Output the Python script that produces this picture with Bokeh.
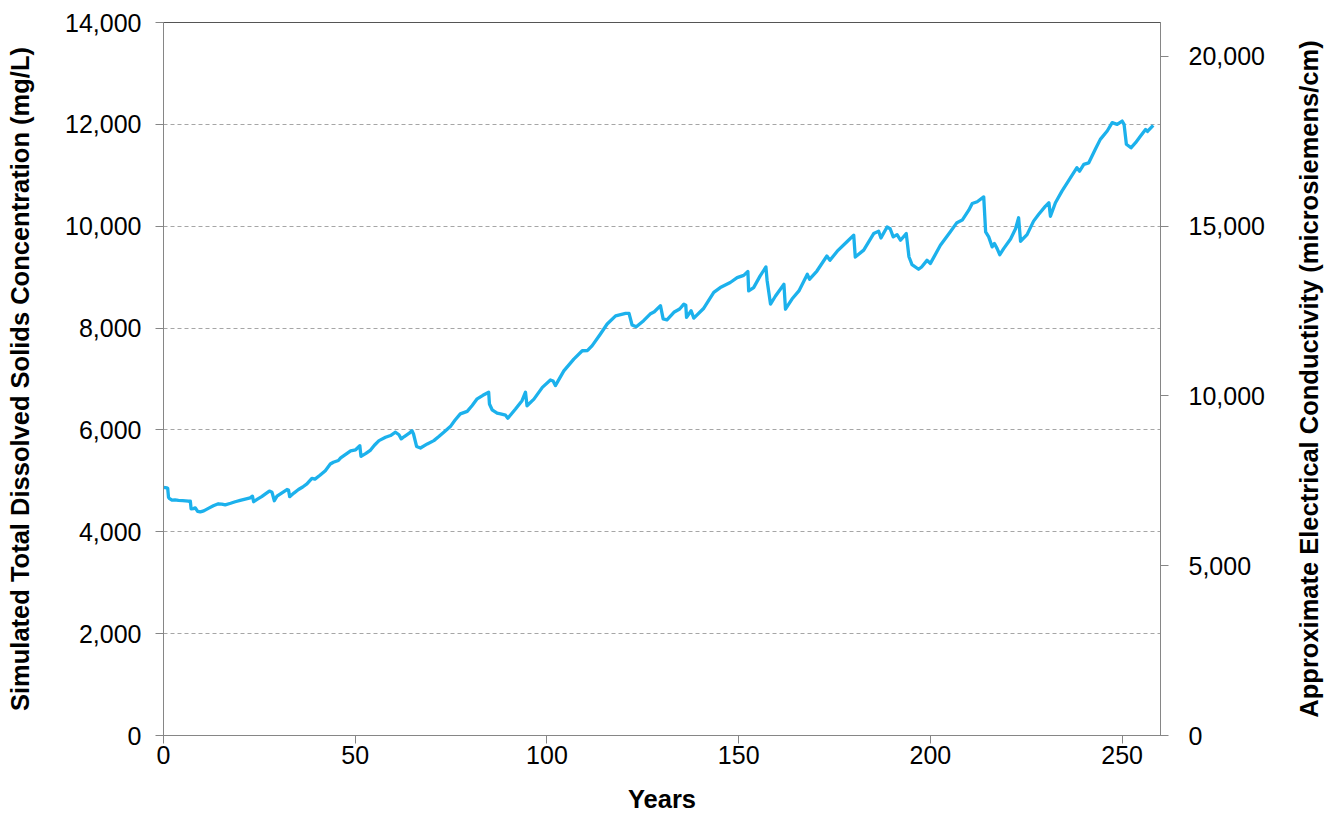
import math
from bokeh.plotting import figure
from bokeh.layouts import row
from bokeh.core.properties import value
from bokeh.models import Range1d, LinearAxis, FixedTicker, NumeralTickFormatter, ColumnDataSource
from bokeh.embed import file_html
from bokeh.resources import INLINE

# Simulated TDS concentration over time (years, mg/L)
years = [
    0.0, 0.9, 1.1, 1.3, 1.6, 2.2, 3.0, 3.9, 5.0, 6.5, 7.0, 7.2, 7.8, 8.3, 8.9, 9.6,
    10.5, 11.7, 13.0, 14.3, 15.2, 16.1, 17.5, 18.7, 20.0, 21.3, 22.6, 23.2, 23.5,
    24.5, 25.6, 26.5, 27.6, 28.3, 28.9, 29.6, 30.8, 32.2, 32.6, 32.9, 34.0, 35.2,
    36.3, 37.4, 38.7, 39.5, 40.8, 42.2, 43.5, 44.3, 45.6, 46.2, 47.5, 48.8, 50.1,
    51.2, 51.5, 52.8, 54.0, 55.0, 56.2, 57.9, 59.2, 60.5, 61.4, 62.0, 62.8, 64.0,
    64.8, 65.2, 66.0, 67.0, 68.8, 70.5, 71.8, 73.1, 74.8, 76.0, 77.4, 79.2, 80.5,
    81.8, 83.3, 84.8, 85.0, 85.7, 87.0, 87.9, 89.2, 89.8, 91.8, 93.5, 94.4, 94.8,
    96.6, 98.8, 100.9, 101.6, 102.2, 104.4, 107.0, 109.2, 110.6, 111.8, 113.9,
    115.7, 117.9, 119.2, 120.5, 121.4, 122.2, 123.3, 125.2, 126.9, 128.0, 129.6,
    130.3, 131.3, 133.1, 134.6, 135.7, 136.2, 136.4, 137.6, 138.3, 140.9, 143.5,
    145.2, 147.8, 149.6, 151.3, 152.4, 152.6, 153.9, 155.6, 157.1, 157.4, 158.3,
    159.6, 161.8, 162.2, 163.9, 165.7, 167.9, 168.5, 170.4, 173.0, 173.8, 175.7,
    178.3, 180.0, 180.4, 182.6, 185.2, 186.5, 187.1, 188.7, 189.5, 190.3, 191.3,
    192.2, 193.7, 194.4, 195.2, 196.9, 197.7, 199.1, 200.0, 202.6, 205.2, 206.9,
    208.3, 210.0, 210.9, 212.2, 213.9, 214.4, 215.2, 216.1, 216.7, 217.4, 218.1,
    219.1, 220.9, 222.2, 223.0, 223.5, 225.2, 226.9, 228.2, 230.0, 230.9, 231.3,
    232.6, 234.3, 236.5, 238.2, 238.9, 240.0, 241.3, 243.0, 244.3, 246.1, 247.4,
    248.7, 250.0, 250.5, 251.1, 252.3, 253.5, 254.8, 256.1, 256.6, 258.1,
]
tds = [
    4870, 4860, 4850, 4680, 4650, 4620, 4625, 4615, 4610, 4600, 4600, 4450, 4455, 4470, 4400, 4390,
    4410, 4460, 4510, 4550, 4545, 4530, 4560, 4590, 4615, 4640, 4665, 4700, 4590,
    4640, 4690, 4740, 4800, 4775, 4610, 4700, 4760, 4830, 4820, 4690, 4760, 4830,
    4880, 4940, 5050, 5035, 5110, 5200, 5330, 5365, 5400, 5450, 5520, 5590, 5610,
    5690, 5480, 5540, 5605, 5700, 5790, 5855, 5890, 5955, 5905, 5825, 5870, 5930,
    5985, 5920, 5675, 5645, 5725, 5790, 5870, 5955, 6065, 6190, 6315, 6365, 6480,
    6610, 6680, 6740, 6510, 6395, 6330, 6315, 6290, 6230, 6410, 6575, 6740, 6475,
    6605, 6835, 6980, 6960, 6870, 7160, 7390, 7555, 7560, 7655, 7880,
    8080, 8240, 8265, 8290, 8290, 8060, 8025, 8145, 8275, 8320, 8440,
    8180, 8160, 8310, 8375, 8470, 8450, 8210, 8340, 8195, 8390, 8700,
    8795, 8895, 8990, 9035, 9110, 8730, 8795, 9025, 9200, 8940, 8470,
    8630, 8860, 8370, 8570, 8730, 9055, 8960, 9120, 9415, 9330, 9510,
    9700, 9825, 9395, 9530, 9855, 9900, 9770, 9985, 9950, 9790, 9835,
    9725, 9855, 9400, 9245, 9155, 9200, 9330, 9270, 9625, 9890, 10070,
    10120, 10315, 10445, 10480, 10575, 9890, 9790, 9595, 9660, 9560, 9440,
    9560, 9750, 9950, 10165, 9705, 9835, 10100, 10230, 10395, 10460, 10195,
    10460, 10690, 10950, 11150, 11080, 11215, 11245, 11510, 11705, 11870, 12035,
    12000, 12065, 12000, 11610, 11540, 11640, 11770, 11900, 11860, 11980,
]

x_ticks = [0, 50, 100, 150, 200, 250]
tds_ticks = [0, 2000, 4000, 6000, 8000, 10000, 12000, 14000]
ec_ticks = [0, 5000, 10000, 15000, 20000]
ec_per_tds = 1.5
ec_title = "Approximate Electrical Conductivity (microsiemens/cm)"

FONT = "Liberation Sans"
AXIS_GREY = "#868686"

source = ColumnDataSource(data=dict(year=years, tds=tds))

p = figure(
    frame_width=997, frame_height=713,
    min_border_left=163, min_border_right=127, min_border_top=22, min_border_bottom=81,
    x_range=Range1d(0, 260), y_range=Range1d(0, 14000),
    output_backend="svg", toolbar_location=None,
)
p.extra_y_ranges = {"ec": Range1d(0, 14000 * ec_per_tds)}

p.line("year", "tds", source=source, line_color="#1CB1EC", line_width=3.3, line_join="round")

p.outline_line_color = "#555555"
p.outline_line_width = 1
p.background_fill_color = "white"
p.border_fill_color = "white"

p.xgrid.visible = False
p.ygrid.ticker = FixedTicker(ticks=tds_ticks)
p.ygrid.grid_line_color = "#A6A6A6"
p.ygrid.grid_line_dash = "4 3"
p.ygrid.grid_line_width = 1

ec_axis = LinearAxis(y_range_name="ec")
p.add_layout(ec_axis, "right")

for ax in (p.xaxis[0], p.yaxis[0], ec_axis):
    ax.axis_line_color = AXIS_GREY
    ax.major_tick_line_color = AXIS_GREY
    ax.major_tick_out = 8
    ax.major_tick_in = 0
    ax.minor_tick_line_color = None
    ax.major_label_text_font = FONT
    ax.major_label_text_font_size = "25px"
    ax.major_label_text_color = "black"
    ax.axis_label_text_font = FONT
    ax.axis_label_text_font_size = "25.5px"
    ax.axis_label_text_font_style = "bold"
    ax.axis_label_text_color = "black"

p.xaxis.ticker = FixedTicker(ticks=x_ticks)
p.xaxis.axis_label = "Years"
p.xaxis.major_label_standoff = 2
p.xaxis.axis_label_standoff = 18

p.yaxis[0].ticker = FixedTicker(ticks=tds_ticks)
p.yaxis[0].formatter = NumeralTickFormatter(format="0,0")
p.yaxis[0].axis_label = "Simulated Total Dissolved Solids Concentration (mg/L)"
p.yaxis[0].major_label_standoff = 14
p.yaxis[0].axis_label_standoff = 28

ec_axis.ticker = FixedTicker(ticks=ec_ticks)
ec_axis.formatter = NumeralTickFormatter(format="0,0")
ec_axis.major_label_standoff = 20

# narrow strip on the right that carries the conductivity title, reading bottom-to-top
strip = figure(
    width=51, height=816, x_range=Range1d(0, 1), y_range=Range1d(0, 1),
    x_axis_location=None, y_axis_location=None,
    min_border=0, output_backend="svg", toolbar_location=None,
)
strip.outline_line_color = None
strip.grid.visible = False
strip.text(
    x=[0.43], y=[0.50], text=[ec_title], angle=math.pi / 2,
    text_align="center", text_baseline="middle",
    text_font=value(FONT), text_font_size=value("25.5px"), text_font_style="bold",
    text_color="black",
)

layout = row(p, strip, spacing=0)
open("out.html", "w").write(file_html(layout, INLINE))
